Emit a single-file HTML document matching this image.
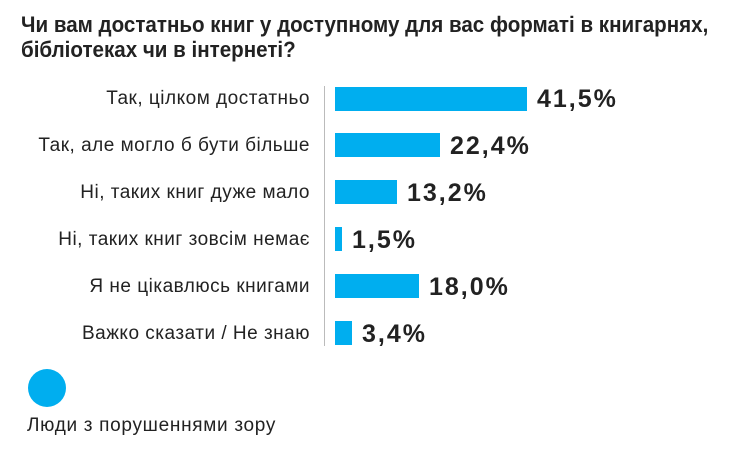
<!DOCTYPE html>
<html><head><meta charset="utf-8"><style>
body{margin:0;background:#fff;width:729px;height:452px;overflow:hidden;position:relative;font-family:"Liberation Sans",sans-serif;color:#222}
.t{position:absolute;left:21px;top:12px;font-weight:bold;font-size:22px;line-height:25px;color:#222;transform:scaleX(0.935);transform-origin:0 0;white-space:nowrap}
.l{position:absolute;right:419px;font-size:19px;letter-spacing:0.5px;white-space:nowrap;color:#222}
.b{position:absolute;left:335px;height:24px;background:#00aeef}
.v{position:absolute;font-size:25px;letter-spacing:2px;font-weight:bold;color:#222;white-space:nowrap}
</style></head><body>
<div class="t">Чи вам достатньо книг у доступному для вас форматі в книгарнях,<br>бібліотеках чи в інтернеті?</div>
<div style="position:absolute;left:324px;top:86px;width:1px;height:260px;background:#bbb"></div>
<div class="l" style="top:88px">Так, цілком достатньо</div><div class="b" style="top:87px;width:192px"></div><div class="v" style="top:85px;left:537px">41,5%</div>
<div class="l" style="top:135px">Так, але могло б бути більше</div><div class="b" style="top:133px;width:105px"></div><div class="v" style="top:132px;left:450px">22,4%</div>
<div class="l" style="top:182px">Ні, таких книг дуже мало</div><div class="b" style="top:180px;width:62px"></div><div class="v" style="top:179px;left:407px">13,2%</div>
<div class="l" style="top:229px">Ні, таких книг зовсім немає</div><div class="b" style="top:227px;width:7px"></div><div class="v" style="top:226px;left:352px">1,5%</div>
<div class="l" style="top:276px">Я не цікавлюсь книгами</div><div class="b" style="top:274px;width:84px"></div><div class="v" style="top:273px;left:429px">18,0%</div>
<div class="l" style="top:323px">Важко сказати / Не знаю</div><div class="b" style="top:321px;width:17px"></div><div class="v" style="top:320px;left:362px">3,4%</div>
<div style="position:absolute;left:28px;top:369px;width:38px;height:38px;border-radius:50%;background:#00aeef"></div>
<div style="position:absolute;left:27px;top:415px;font-size:19px;letter-spacing:0.7px">Люди з порушеннями зору</div>
</body></html>
